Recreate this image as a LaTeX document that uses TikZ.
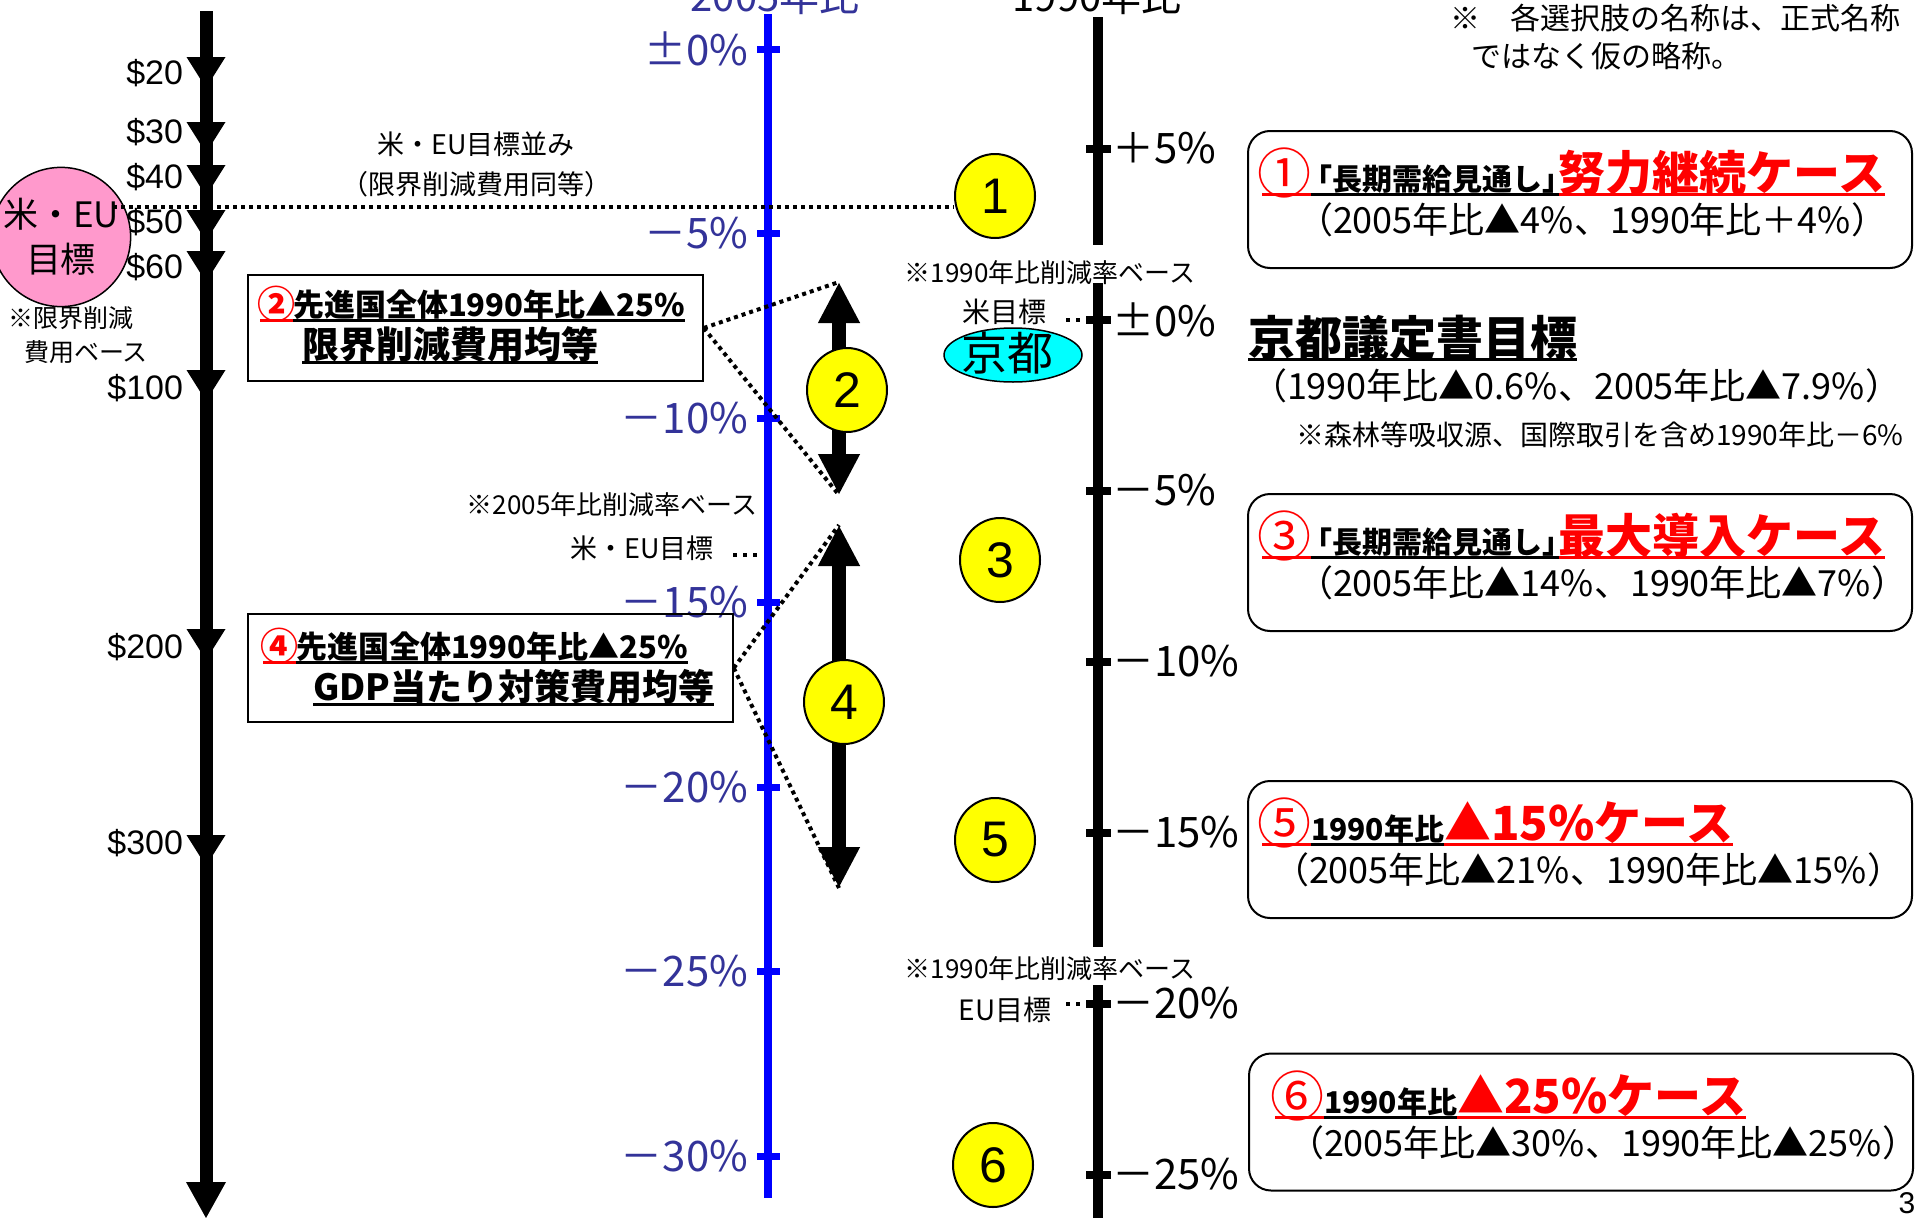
\documentclass[tikz,border=0pt]{standalone}
\usepackage{fontspec}
\setmainfont{Noto Sans CJK JP}
\newfontfamily\arialf{Liberation Sans}
\usetikzlibrary{arrows.meta,shapes.geometric}
\definecolor{axblue}{HTML}{0000FF}
\definecolor{lblblue}{HTML}{333399}
\definecolor{pinkc}{HTML}{FF99CC}
\definecolor{yel}{HTML}{FFFF00}
\definecolor{cyn}{HTML}{00FFFF}
\newcommand\fsz[1]{\fontsize{#1pt}{#1pt}\selectfont}
\newcommand\ulx[1]{\setbox0\hbox{#1}\rlap{\rule[-6pt]{\wd0}{3pt}}\box0}
\newcommand\bigc[1]{{\color{red}\fsz{54}\ulx{\kern-5pt\raisebox{-3pt}{#1}}}}
\newcommand\midc[1]{{\color{red}\fsz{38}\ulx{\kern-3pt\raisebox{-2pt}{#1}\kern-2pt}}}
\newcommand\kakko{\ulx{\kern-0.3em「長期需給見通し」\kern-0.45em}}
\begin{document}
\begin{tikzpicture}[x=1pt,y=-1pt,
  txt/.style={inner sep=0pt, outer sep=0pt},
  dotline/.style={line width=4pt, dash pattern=on 4pt off 4pt},
  dotshort/.style={line width=4pt, dash pattern=on 4pt off 6pt},
  yell/.style={ellipse, draw, line width=2pt, fill=yel, minimum width=80pt, minimum height=84pt, inner sep=0pt, font=\arialf\fsz{50}},
  rbox/.style={draw, line width=2pt, rounded corners=22pt, minimum width=664pt, minimum height=137pt, inner sep=0pt},
  sbox/.style={draw, line width=1.5pt, inner sep=0pt},
  dbl/.style={line width=14pt, arrows={Triangle[width=39pt,length=41pt]-Triangle[width=39pt,length=41pt]}},
  price/.style={txt, anchor=east, font=\arialf\fsz{34}},
  paren/.style={txt, anchor=base west, font=\fsz{36}},
]
\useasboundingbox (0,0) rectangle (1920,1218);
\fill[white] (0,0) rectangle (1920,1218);

% ---------- left cost axis ----------
\draw[line width=13pt] (206,11) -- (206,1190);
\foreach \t in {57,122,165,210,251,370,629,835}{
  \fill (186.5,\t) -- (225.5,\t) -- (206,\t+31) -- cycle;
}
\fill (186,1182) -- (226,1182) -- (206,1218) -- cycle;
\node[price] (p20) at (183,73) {\$20};
\node[price] (p30) at (183,132) {\$30};
\node[price] (p40) at (183,177) {\$40};
\node[price] (p50) at (183,222) {\$50};
\node[price] (p60) at (183,267) {\$60};
\node[price] (p100) at (183,388) {\$100};
\node[price] (p200) at (183,647) {\$200};
\node[price] (p300) at (183,843) {\$300};

% ---------- blue axis ----------
\draw[axblue, line width=8pt] (768,14) -- (768,1198);
\foreach \k/\lab in {0/±0\%,1/－5\%,2/－10\%,3/－15\%,4/－20\%,5/－25\%,6/－30\%}{
  \pgfmathsetmacro\yy{49+184.5*\k}
  \draw[axblue, line width=7pt] (757,\yy) -- (780,\yy);
  \node[txt, anchor=east, text=lblblue, font=\fsz{42}] (bl\k) at (748,\yy) {\lab};
}
\node[txt, anchor=base, text=lblblue, font=\fsz{40}] (t2005) at (775,12) {2005年比};

% ---------- right black axis ----------
\draw[line width=10pt] (1098,17) -- (1098,245);
\draw[line width=10pt] (1098,283) -- (1098,947);
\draw[line width=10pt] (1098,985) -- (1098,1225);
\foreach \k/\lab in {0/＋5\%,1/±0\%,2/－5\%,3/－10\%,4/－15\%,5/－20\%,6/－25\%}{
  \pgfmathsetmacro\yy{148.5+171*\k}
  \draw[line width=8pt] (1086,\yy) -- (1111,\yy);
  \coordinate (rt\k) at (1086,\yy);
  \node[txt, anchor=west, font=\fsz{42}] (rl\k) at (1112,\yy) {\lab};
}
\node[txt, anchor=base, font=\fsz{40}] (t1990) at (1097,11) {1990年比};

% ---------- pink target circle ----------
\node[circle, draw, line width=1.5pt, fill=pinkc, minimum size=120pt, inner sep=0pt, align=center,
      font={\fontsize{35pt}{45pt}\selectfont}] (useu) at (61,237) {米・EU\\目標};
\node[txt, font=\fsz{25}] (gn1) at (71,318) {※限界削減};
\node[txt, font=\fsz{25}] (gn2) at (86,352) {費用ベース};

% ---------- yellow case ellipses and arrows ----------
\coordinate (a2t) at (839,282);
\coordinate (a2b) at (839,495);
\coordinate (a4t) at (839,525);
\coordinate (a4b) at (839,888);
\draw[dbl] (a2t) -- (a2b);
\draw[dbl] (a4t) -- (a4b);
\node[yell] (e1) at (995,196) {1};
\node[yell] (e2) at (847,390) {2};
\node[yell] (e3) at (1000,560) {3};
\node[yell] (e4) at (844,702) {4};
\node[yell] (e5) at (995,840) {5};
\node[yell] (e6) at (993,1165) {6};

% ---------- horizontal dotted line ----------
\coordinate (dl) at (113,207);
\draw[dotline] (dl) -- (dl -| e1.west);
\node[txt, font=\fsz{27}] (nami1) at (476,144) {米・EU目標並み};
\node[txt, font=\fsz{27}] (nami2) at (476,184) {（限界削減費用同等）};

% ---------- boxes 2 and 4 ----------
\node[sbox, minimum width=455pt, minimum height=106pt] (b2) at (475.5,328) {};
\node[txt, anchor=base west, font=\bfseries\fsz{31}] (b2l1) at (260,316)
  {\midc{②}\ulx{先進国全体1990年比▲25\%}};
\node[txt, anchor=base west, font=\bfseries\fsz{37}] (b2l2) at (302,358)
  {\ulx{限界削減費用均等}};
\node[sbox, minimum width=485pt, minimum height=108pt] (b4) at (490.5,668) {};
\node[txt, anchor=base west, font=\bfseries\fsz{31}] (b4l1) at (263,658)
  {\midc{④}\ulx{先進国全体1990年比▲25\%}};
\node[txt, anchor=base west, font=\bfseries\fsz{36}] (b4l2) at (313,700)
  {\ulx{GDP当たり対策費用均等}};
\draw[dotline] (b2.east) -- (a2t);
\draw[dotline] (b2.east) -- (a2b);
\draw[dotline] (b4.east) -- (a4t);
\draw[dotline] (b4.east) -- (a4b);

% ---------- 2005 base note ----------
\node[txt, font=\fsz{26}] (n2005) at (612,505) {※2005年比削減率ベース};
\node[txt, font=\fsz{27}] (useu2) at (642,548) {米・EU目標};
\coordinate (du0) at (733,555);
\coordinate (du1) at (760,555);
\draw[dotshort] (du0) -- (du1);

% ---------- 1990 base notes ----------
\node[txt, font=\fsz{26}] (n1990a) at (1050,273) {※1990年比削減率ベース};
\node[txt, font=\fsz{28}] (usg) at (1004,312) {米目標};
\coordinate (dus) at (1066,319.5);
\draw[dotshort] (dus) -- (rt1);
\node[ellipse, draw, line width=1.5pt, fill=cyn, minimum width=138pt, minimum height=54pt, inner sep=0pt] (kyo) at (1013,355) {};
\node[txt, font=\fsz{46}] (kyot) at (1007,353) {京都};
\node[txt, font=\fsz{26}] (n1990b) at (1050,969) {※1990年比削減率ベース};
\node[txt, font=\fsz{28}] (eug) at (1005,1010) {EU目標};
\coordinate (deu) at (1066,1003.5);
\draw[dotshort] (deu) -- (rt5);

% ---------- top note ----------
\node[txt, anchor=west, font=\fsz{30}] (tn1) at (1450,18) {※　各選択肢の名称は、正式名称};
\node[txt, anchor=west, font=\fsz{30}] (tn2) at (1471,56) {ではなく仮の略称。};

% ---------- right case boxes ----------
\node[rbox] (b1) at (1580,199.5) {};
\node[txt, anchor=base west] (b1l1) at (1262,190)
  {\bigc{①}{\bfseries\fsz{30}\kakko}{\color{red}\bfseries\fsz{47}\ulx{努力継続ケース}}};
\node[paren] (b1l2) at (1297,233) {（2005年比▲4\%、1990年比＋4\%）};

\node[txt, anchor=base west, font=\bfseries\fsz{47}] (kp) at (1248,355) {\ulx{京都議定書目標}};
\node[paren] (kpv) at (1251,399) {（1990年比▲0.6\%、2005年比▲7.9\%）};
\node[txt, font=\fsz{28}] (kpn) at (1600,435) {※森林等吸収源、国際取引を含め1990年比－6\%};

\node[rbox] (b3) at (1580,562.5) {};
\node[txt, anchor=base west] (b3l1) at (1262,553)
  {\bigc{③}{\bfseries\fsz{30}\kakko}{\color{red}\bfseries\fsz{47}\ulx{最大導入ケース}}};
\node[paren] (b3l2) at (1297,596) {（2005年比▲14\%、1990年比▲7\%）};

\node[rbox] (b5) at (1580,849.5) {};
\node[txt, anchor=base west] (b5l1) at (1262,840)
  {\bigc{⑤}{\bfseries\fsz{30}\ulx{1990年比}}{\color{red}\bfseries\fsz{47}\ulx{▲15\%ケース}}};
\node[paren] (b5l2) at (1273,883) {（2005年比▲21\%、1990年比▲15\%）};

\node[rbox] (b6) at (1581,1122) {};
\node[txt, anchor=base west] (b6l1) at (1275,1113)
  {\bigc{⑥}{\bfseries\fsz{30}\ulx{1990年比}}{\color{red}\bfseries\fsz{47}\ulx{▲25\%ケース}}};
\node[paren] (b6l2) at (1288,1156) {（2005年比▲30\%、1990年比▲25\%）};

\node[txt, font=\arialf\fsz{30}] (pg) at (1907,1203) {3};
\end{tikzpicture}
\end{document}
